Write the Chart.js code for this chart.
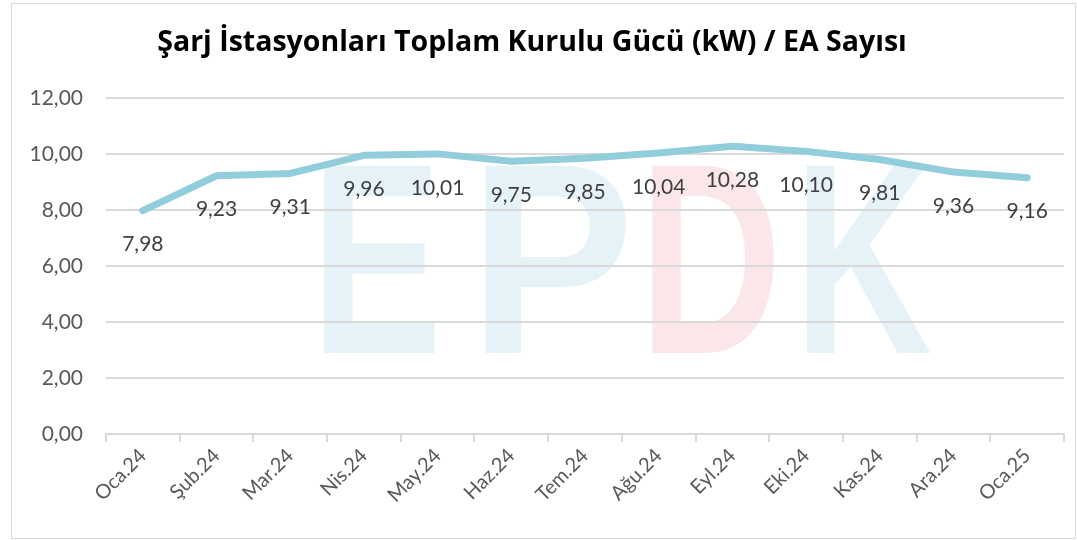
<!DOCTYPE html>
<html lang="tr">
<head>
    <meta charset="UTF-8">
    <title>Şarj İstasyonları Toplam Kurulu Gücü</title>
    <script src="https://cdn.jsdelivr.net/npm/chart.js"></script>
    <style>
        body { margin: 0; background: #fff; }
        .wrap { position: relative; width: 1077px; height: 540px; }
        .frame { position: absolute; left: 11px; top: 3px; width: 1063px; height: 534px; border: 1px solid #d9d9d9; pointer-events: none; }
    </style>
</head>
<body>
    <div class="wrap">
        <canvas id="lineChart" width="1077" height="540"></canvas>
        <div class="frame"></div>
    </div>
    <script>
        // Data
        const months = ['Oca.24', 'Şub.24', 'Mar.24', 'Nis.24', 'May.24', 'Haz.24', 'Tem.24',
                        'Ağu.24', 'Eyl.24', 'Eki.24', 'Kas.24', 'Ara.24', 'Oca.25'];
        const powerPerEv = [7.98, 9.23, 9.31, 9.96, 10.01, 9.75, 9.85, 10.04, 10.28, 10.10, 9.81, 9.36, 9.16];
        const yTicks = [0, 2, 4, 6, 8, 10, 12];

        const fmt = v => v.toFixed(2).replace('.', ',');
        const FONT = 'Lato, "Open Sans", sans-serif';

        // faint EPDK logo behind the chart
        const watermark = {
            id: 'watermark',
            beforeDraw(chart) {
                const ctx = chart.ctx;
                const letters = [
                    { ch: 'E', x0: 311, x1: 442, color: '#e5f3f8' },
                    { ch: 'P', x0: 469, x1: 634, color: '#e5f3f8' },
                    { ch: 'D', x0: 639, x1: 782, color: '#fbe7ea' },
                    { ch: 'K', x0: 794, x1: 932, color: '#e5f3f8' }
                ];
                ctx.save();
                ctx.font = 'bold 272px "Liberation Sans", sans-serif';
                ctx.textBaseline = 'alphabetic';
                letters.forEach(l => {
                    const w = ctx.measureText(l.ch).width;
                    ctx.save();
                    ctx.translate(l.x0, 353);
                    ctx.scale((l.x1 - l.x0) / w, 1);
                    ctx.fillStyle = l.color;
                    ctx.fillText(l.ch, 0, 0);
                    ctx.restore();
                });
                ctx.restore();
            }
        };

        // value labels under each point
        const valueLabels = {
            id: 'valueLabels',
            afterDatasetsDraw(chart) {
                const ctx = chart.ctx;
                const meta = chart.getDatasetMeta(0);
                ctx.save();
                ctx.font = '21px ' + FONT;
                ctx.fillStyle = '#404040';
                ctx.textAlign = 'center';
                ctx.textBaseline = 'middle';
                meta.data.forEach((pt, i) => {
                    ctx.fillText(fmt(powerPerEv[i]), pt.x, pt.y + 34);
                });
                ctx.restore();
            }
        };

        const ctxLine = document.getElementById('lineChart').getContext('2d');
        const lineChart = new Chart(ctxLine, {
            type: 'line',
            data: {
                labels: months,
                datasets: [{
                    data: powerPerEv,
                    borderColor: '#92cddc',
                    borderWidth: 7,
                    borderCapStyle: 'round',
                    borderJoinStyle: 'round',
                    pointRadius: 0,
                    tension: 0
                }]
            },
            options: {
                responsive: false,
                animation: false,
                layout: { padding: { left: 0, right: 13, top: 0, bottom: 0 } },
                plugins: {
                    legend: { display: false },
                    tooltip: { enabled: false },
                    title: {
                        display: true,
                        text: 'Şarj İstasyonları Toplam Kurulu Gücü (kW) / EA Sayısı',
                        color: '#000',
                        font: { family: '"Open Sans", sans-serif', size: 28.5, weight: 'bold', lineHeight: 1.2 },
                        padding: { top: 26, bottom: 38 }
                    }
                },
                scales: {
                    x: {
                        offset: true,
                        grid: { offset: true, drawOnChartArea: false, drawTicks: true, tickLength: 8, color: '#d9d9d9', lineWidth: 2 },
                        border: { color: '#d9d9d9', width: 2 },
                        ticks: { color: '#595959', font: { family: FONT, size: 20 }, minRotation: 45, maxRotation: 45, padding: 2 },
                        afterFit: s => { s.height = 106; }
                    },
                    y: {
                        min: 0,
                        max: 12,
                        afterBuildTicks: s => { s.ticks = yTicks.map(v => ({ value: v })); },
                        grid: { color: '#d9d9d9', lineWidth: 2, drawTicks: false },
                        border: { display: false },
                        ticks: { color: '#595959', font: { family: FONT, size: 21 }, padding: 23, callback: v => fmt(v) },
                        afterFit: s => { s.width = 106; }
                    }
                }
            },
            plugins: [watermark, valueLabels]
        });
    </script>
</body>
</html>
